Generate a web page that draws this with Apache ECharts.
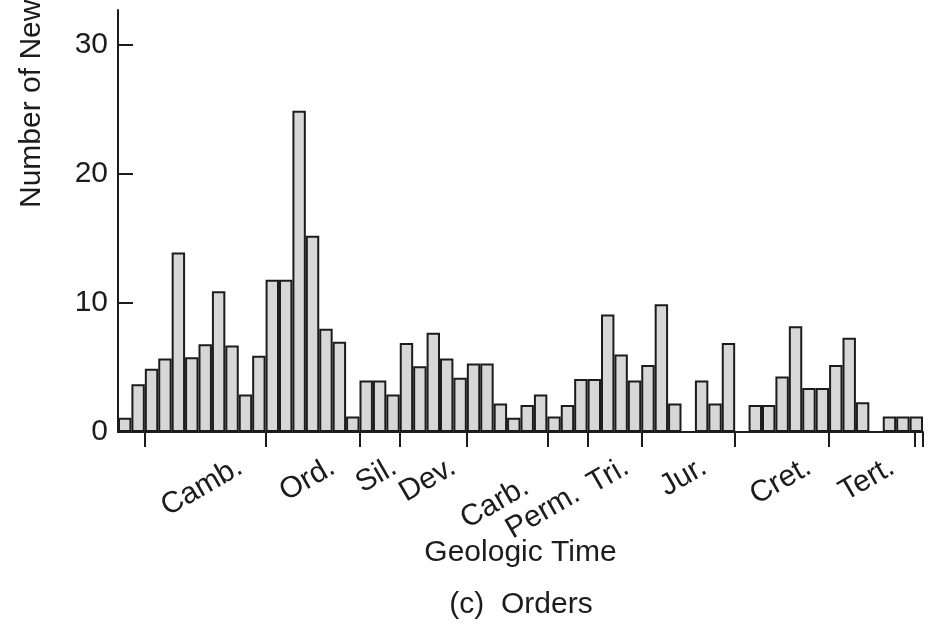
<!DOCTYPE html>
<html>
<head>
<meta charset="utf-8">
<title>Orders through geologic time</title>
<script src="https://cdn.jsdelivr.net/npm/echarts@6/dist/echarts.min.js"></script>
<style>
  html, body { margin: 0; padding: 0; background: #fff; }
  #chart { width: 934px; height: 624px; }
</style>
</head>
<body>
<div id="chart"></div>
<script>
// New orders per time bin, oldest bin first (60 bins).
const counts = [
  1.1, 3.7, 4.9, 5.7, 13.9, 5.8, 6.8, 10.9, 6.7, 2.9,
  5.9, 11.8, 11.8, 24.9, 15.2, 8.0, 7.0, 1.2, 4.0, 4.0,
  2.9, 6.9, 5.1, 7.7, 5.7, 4.2, 5.3, 5.3, 2.2, 1.1,
  2.1, 2.9, 1.2, 2.1, 4.1, 4.1, 9.1, 6.0, 4.0, 5.2,
  9.9, 2.2, 0, 4.0, 2.2, 6.9, 0, 2.1, 2.1, 4.3,
  8.2, 3.4, 3.4, 5.2, 7.3, 2.3, 0, 1.2, 1.2, 1.2
];
const binIndex = counts.map((_, i) => String(i + 1));

// Period boundaries on the time axis (in bin units).
const boundaryTicks = [2, 11, 18, 21, 26, 32, 35, 39, 46, 53, 59.4, 60];

// Period names and where each rotated name ends on the time axis.
const periodNames = ['Camb.', 'Ord.', 'Sil.', 'Dev.', 'Carb.', 'Perm.', 'Tri.', 'Jur.', 'Cret.', 'Tert.'];
const periodLabelAt = [9.1, 16.0, 20.6, 25.0, 29.6, 33.1, 37.9, 43.7, 51.5, 57.7];

const yTicks = [0, 10, 20, 30];

const FONT = "'Liberation Sans', Arial, Helvetica, sans-serif";
const INK = '#1c1c1c';
const FS = 30;

const chart = echarts.init(document.getElementById('chart'), null, { renderer: 'canvas' });

// Carb. and Perm. sit a little lower so they do not collide.
function periodName(v) {
  for (let i = 0; i < periodLabelAt.length; i++) {
    if (Math.abs(periodLabelAt[i] - v) < 1e-6) {
      const name = periodNames[i];
      if (name === 'Carb.') return '{lo|' + name + '}';
      if (name === 'Perm.') return '{lower|' + name + '}';
      return '{n|' + name + '}';
    }
  }
  return '';
}

const labelRich = {
  n: { fontSize: FS, fontFamily: FONT, color: INK },
  lo: { fontSize: FS, fontFamily: FONT, color: INK, padding: [46, 0, 0, 0] },
  lower: { fontSize: FS, fontFamily: FONT, color: INK, padding: [62, 0, 0, 0] }
};

chart.setOption({
  animation: false,
  backgroundColor: '#ffffff',
  grid: { left: 118, right: 11, top: 10, bottom: 192, containLabel: false },
  xAxis: [
    {
      type: 'category',
      data: binIndex,
      boundaryGap: true,
      axisLine: { show: true, lineStyle: { color: INK, width: 2 } },
      axisTick: { show: false },
      axisLabel: { show: false },
      splitLine: { show: false },
      name: 'Geologic Time',
      nameLocation: 'middle',
      nameGap: 106,
      nameTextStyle: { fontSize: FS, fontFamily: FONT, color: INK }
    },
    {
      type: 'value',
      position: 'bottom',
      min: 0,
      max: 60,
      axisLine: { show: false },
      splitLine: { show: false },
      axisTick: {
        show: true,
        customValues: boundaryTicks,
        length: 15,
        inside: false,
        lineStyle: { color: INK, width: 2 }
      },
      axisLabel: {
        show: true,
        customValues: periodLabelAt,
        rotate: 30,
        margin: 33,
        formatter: periodName,
        rich: labelRich
      }
    }
  ],
  yAxis: {
    type: 'value',
    min: 0,
    max: 32.7,
    axisLine: { show: true, lineStyle: { color: INK, width: 2 } },
    splitLine: { show: false },
    axisTick: {
      show: true,
      inside: true,
      length: 15,
      customValues: yTicks.filter(v => v > 0),
      lineStyle: { color: INK, width: 2 }
    },
    axisLabel: {
      customValues: yTicks,
      margin: 10,
      fontSize: FS,
      fontFamily: FONT,
      color: INK
    }
  },
  graphic: [
    {
      type: 'text',
      x: 32,
      y: 208,
      rotation: Math.PI / 2,
      style: {
        text: 'Number of New Orders',
        x: 0,
        y: 0,
        align: 'left',
        verticalAlign: 'middle',
        font: FS + 'px ' + FONT,
        fill: INK
      }
    },
    {
      type: 'text',
      x: 521,
      y: 605,
      style: {
        text: '(c)  Orders',
        x: 0,
        y: 0,
        align: 'center',
        verticalAlign: 'middle',
        font: FS + 'px ' + FONT,
        fill: INK
      }
    }
  ],
  series: [
    {
      type: 'bar',
      xAxisIndex: 0,
      yAxisIndex: 0,
      data: counts,
      barCategoryGap: '0%',
      itemStyle: {
        color: '#d7d7d7',
        borderColor: INK,
        borderWidth: 2
      }
    }
  ]
});
</script>
</body>
</html>
